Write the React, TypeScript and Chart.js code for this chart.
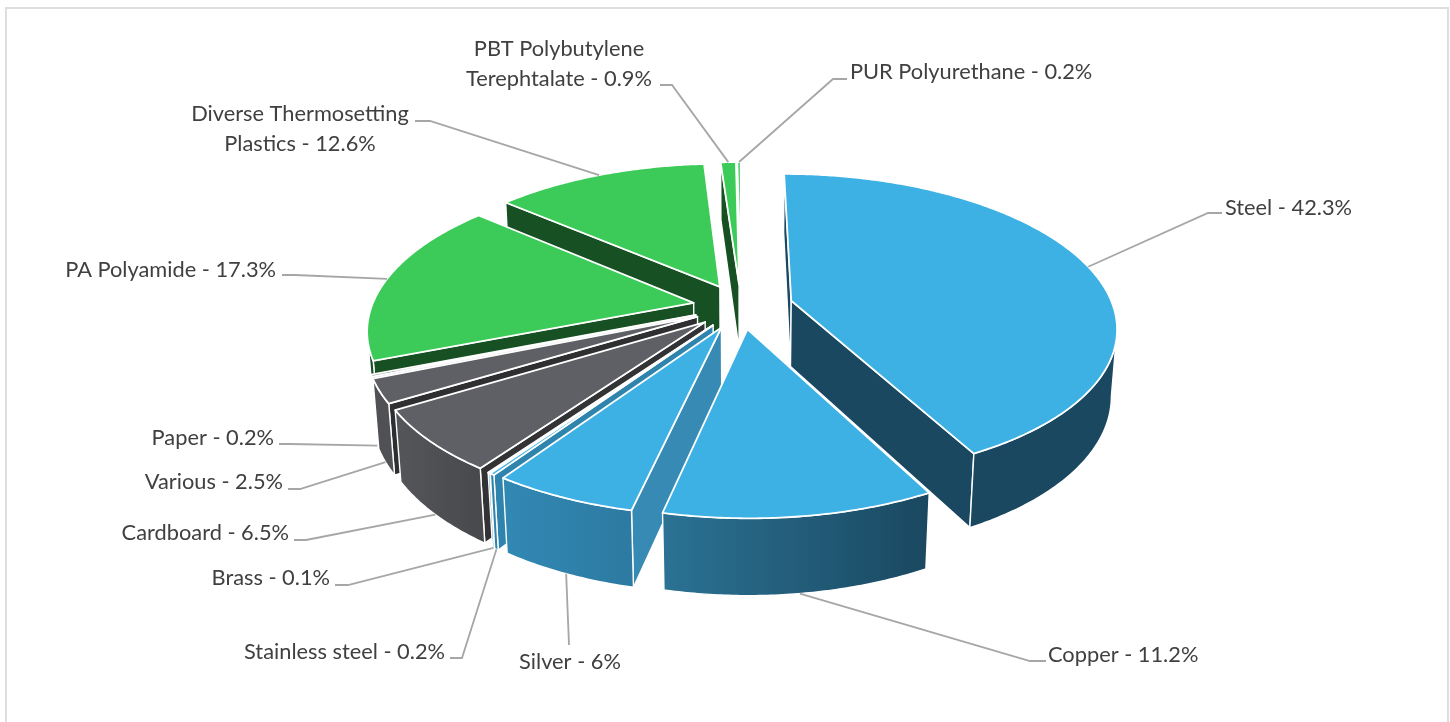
import React, { useEffect, useRef } from "react";
import { Chart, registerables } from "chart.js";

Chart.register(...registerables);

const categories = ["Steel", "Copper", "Silver", "Stainless steel", "Brass", "Cardboard", "Various", "Paper", "PA Polyamide", "Diverse Thermosetting Plastics", "PBT Polybutylene Terephtalate", "PUR Polyurethane"];
const shares = [42.3, 11.2, 6, 0.2, 0.1, 6.5, 2.5, 0.2, 17.3, 12.6, 0.9, 0.2];

const BLUE = "#3DB0E4", GREY = "#5F6065", GREEN = "#3CCB58";
const topColors = [BLUE, BLUE, BLUE, BLUE, BLUE, GREY, GREY, GREY, GREEN, GREEN, GREEN, GREEN];
const cutColors = ["#1A4860", "#1A4860", "#378AB4", "#2E84AC", "#2E84AC", "#333335", "#2F2F31", "#D8D8D8", "#175022", "#175022", "#175022", "#175022"];
const wallFrom = ["#1A4860", "#2B7294", "#3189B4", "#2E84AC", "#2E84AC", "#555659", "#505155", "#505155", "#175022", "#175022", "#175022", "#175022"];
const wallTo = ["#1A4860", "#1A4860", "#2D7AA2", "#2E84AC", "#2E84AC", "#48494D", "#505155", "#505155", "#175022", "#175022", "#175022", "#175022"];
const explode = [54, 50, 50, 50, 50, 50, 50, 50, 50, 50, 50, 50];

// view of the tilted pie
const VIEW = { cx: 741, cy: 306.5, rx: 322, ry: 149.5, persp: 0.165, depth: 67, depthPersp: 0.015 };

// label placement: text anchor, leader elbows, depth at which the leader leaves the slice
type Place = { x: number; y: number; align: CanvasTextAlign; wrap?: number; elbow: number[][]; z: number };
const places: Place[] = [
  { x: 1225, y: 208, align: "left", elbow: [[1208, 213], [1222, 213]], z: 0 },
  { x: 1048, y: 655, align: "left", elbow: [[1030, 661], [1046, 661]], z: 1 },
  { x: 570, y: 662, align: "center", elbow: [[569, 645]], z: 1 },
  { x: 445, y: 652, align: "right", elbow: [[462, 658], [450, 658]], z: 1 },
  { x: 330, y: 578, align: "right", elbow: [[348, 585], [335, 585]], z: 1 },
  { x: 289, y: 533, align: "right", elbow: [[306, 540], [294, 540]], z: 1 },
  { x: 283, y: 482, align: "right", elbow: [[300, 489], [288, 489]], z: 1 },
  { x: 274, y: 438, align: "right", elbow: [[290, 444], [279, 444]], z: 1 },
  { x: 276, y: 270, align: "right", elbow: [[295, 275], [282, 275]], z: 0 },
  { x: 300, y: 114, align: "center", wrap: 2, elbow: [[430, 121], [415, 121]], z: 0 },
  { x: 559, y: 49, align: "center", wrap: 2, elbow: [[672, 85], [660, 85]], z: 0 },
  { x: 850, y: 72, align: "left", elbow: [[833, 79], [847, 79]], z: 0 },
];

const FONT = '21.8px Lato, "Open Sans", sans-serif';
const TEXT = "#404040";
const LEADER = "#A6A6A6";

function project(angle: number, r: number, z: number, off: number, mid: number) {
  const u = off * Math.cos(mid) + r * Math.cos(angle);
  const v = off * Math.sin(mid) + r * Math.sin(angle);
  const w = 1 - VIEW.persp * v + VIEW.depthPersp * z;
  return { x: VIEW.cx + (VIEW.rx * u) / w, y: VIEW.cy + (VIEW.ry * v + VIEW.depth * z) / w };
}

const pie3d = {
  id: "pie3d",
  beforeDatasetsDraw(chart: any) {
    const ctx: CanvasRenderingContext2D = chart.ctx;
    const arcs = chart.getDatasetMeta(0).data.map((arc: any, i: number) => {
      const start = arc.startAngle, end = arc.endAngle;
      return { i, start, end, mid: (start + end) / 2, off: arc.options.offset / arc.outerRadius, color: arc.options.backgroundColor };
    });
    const order = [...arcs].sort((a: any, b: any) => Math.sin(a.mid) - Math.sin(b.mid));
    ctx.save();
    ctx.lineJoin = "round";
    ctx.strokeStyle = "#FFFFFF";
    for (const s of order) {
      const P = (a: number, r: number, z: number) => project(a, r, z, s.off, s.mid);
      const n = Math.max(2, Math.ceil((s.end - s.start) / 0.01));
      const rim: number[] = [];
      for (let k = 0; k <= n; k++) rim.push(s.start + ((s.end - s.start) * k) / n);
      const poly = (pts: { x: number; y: number }[], fill: any, lw: number) => {
        ctx.beginPath();
        pts.forEach((p, idx) => (idx ? ctx.lineTo(p.x, p.y) : ctx.moveTo(p.x, p.y)));
        ctx.closePath();
        ctx.fillStyle = fill;
        ctx.fill();
        ctx.lineWidth = lw;
        ctx.stroke();
      };
      // cut faces, only where they look at the viewer
      const a0 = P(s.mid, 0, 0), a1 = P(s.mid, 0, 1);
      const st0 = P(s.start, 1, 0), st1 = P(s.start, 1, 1);
      const en0 = P(s.end, 1, 0), en1 = P(s.end, 1, 1);
      if (st0.x - a0.x < 0) poly([a0, st0, st1, a1], cutColors[s.i], 1.4);
      if (a0.x - en0.x < 0) poly([en0, a0, a1, en1], cutColors[s.i], 1.4);
      // outer wall
      const run: number[] = [];
      for (let k = 0; k < n; k++) {
        if (P(rim[k + 1], 1, 0).x - P(rim[k], 1, 0).x < 0) {
          if (!run.length) run.push(rim[k]);
          run.push(rim[k + 1]);
        }
      }
      if (run.length) {
        const topEdge = run.map((a) => P(a, 1, 0));
        const botEdge = run.map((a) => P(a, 1, 1)).reverse();
        const xs = topEdge.map((p) => p.x);
        const g = ctx.createLinearGradient(Math.min(...xs), 0, Math.max(...xs), 0);
        g.addColorStop(0, wallFrom[s.i]);
        g.addColorStop(1, wallTo[s.i]);
        poly([...topEdge, ...botEdge], g, 1.4);
      }
      // top face
      poly([a0, ...rim.map((a) => P(a, 1, 0))], s.color, 1.8);
    }
    ctx.restore();
    return false;
  },
  afterDraw(chart: any) {
    const ctx: CanvasRenderingContext2D = chart.ctx;
    ctx.save();
    ctx.font = FONT;
    ctx.textBaseline = "middle";
    chart.getDatasetMeta(0).data.forEach((arc: any, i: number) => {
      const p = places[i];
      const mid = (arc.startAngle + arc.endAngle) / 2;
      const from = project(mid, 1, p.z, arc.options.offset / arc.outerRadius, mid);
      ctx.beginPath();
      ctx.moveTo(from.x, from.y);
      p.elbow.forEach(([x, y]) => ctx.lineTo(x, y));
      ctx.strokeStyle = LEADER;
      ctx.lineWidth = 1.8;
      ctx.stroke();
      const text = `${categories[i]} - ${shares[i]}%`;
      const words = text.split(" ");
      const lines = p.wrap ? [words.slice(0, p.wrap).join(" "), words.slice(p.wrap).join(" ")] : [text];
      ctx.fillStyle = TEXT;
      ctx.textAlign = p.align;
      lines.forEach((l, k) => ctx.fillText(l, p.x, p.y + k * 30));
    });
    ctx.restore();
  },
};

export default function App() {
  const ref = useRef<HTMLCanvasElement>(null);
  useEffect(() => {
    const chart = new Chart(ref.current!, {
      type: "pie",
      data: {
        labels: categories,
        datasets: [{ data: shares, backgroundColor: topColors, offset: explode, borderWidth: 0 }],
      },
      options: {
        responsive: false,
        animation: false,
        layout: { padding: 0 },
        plugins: { legend: { display: false }, tooltip: { enabled: false } },
      },
      plugins: [pie3d],
    } as any);
    return () => chart.destroy();
  }, []);
  return (
    <div style={{ position: "absolute", left: 0, top: 0, width: 1450, height: 722, overflow: "hidden", background: "#fff" }}>
      <div style={{ position: "absolute", left: 5, top: 7, width: 1440, height: 760, border: "2px solid #DEDEDE" }} />
      <canvas ref={ref} width={1450} height={722} style={{ position: "absolute", left: 0, top: 0 }} />
    </div>
  );
}
